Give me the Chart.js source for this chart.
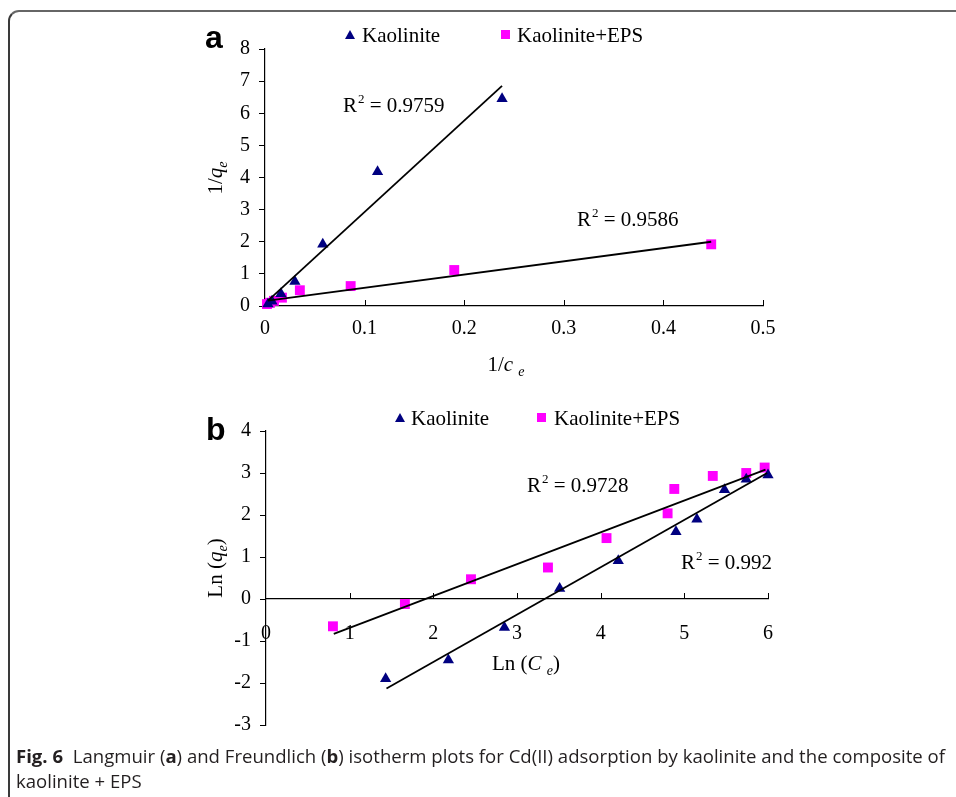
<!DOCTYPE html>
<html><head><meta charset="utf-8">
<script src="https://cdn.jsdelivr.net/npm/chart.js@4.4.0/dist/chart.umd.min.js"></script>
<style>
html,body{margin:0;padding:0;background:#fff;}
#page{position:relative;width:956px;height:797px;overflow:hidden;background:#fff;}
.frame{position:absolute;left:8px;top:10px;width:1000px;height:900px;border-left:2px solid #3a3a3a;border-top:2px solid #666;border-top-left-radius:11px;box-sizing:border-box;}
canvas{position:absolute;left:0;}
.t{position:absolute;font-family:"Liberation Serif","Times New Roman",serif;color:#000;white-space:nowrap;line-height:1;font-size:21px;}
.t sup{font-size:13px;vertical-align:0;position:relative;top:-9px;margin-left:1px;}
.t sub{font-size:14px;vertical-align:0;position:relative;top:5px;}
.c{transform:translate(-50%,-50%);}
.r{transform:translate(-50%,-50%) rotate(-90deg);}
.panel{position:absolute;font-family:"Liberation Sans",Arial,sans-serif;font-weight:bold;font-size:32px;line-height:1;color:#000;}
.tri{position:absolute;width:0;height:0;border-left:5px solid transparent;border-right:5px solid transparent;border-bottom:9px solid #000080;}
.sq{position:absolute;width:9px;height:9px;background:#ff00ff;}
.cap{position:absolute;left:16px;font-family:"Open Sans","Noto Sans",sans-serif;font-size:18px;line-height:25px;color:#231f20;white-space:nowrap;transform-origin:0 0;}
</style></head>
<body>
<div id="page">
  <div class="frame"></div>
  <canvas id="ca" width="956" height="390" style="top:0;width:956px;height:390px"></canvas>
  <canvas id="cb" width="956" height="357" style="top:390px;width:956px;height:357px"></canvas>

  <div class="panel" style="left:205px;top:21px">a</div>
  <div class="panel" style="left:206px;top:413px">b</div>

  <div class="tri" style="left:345px;top:30px"></div>
  <div class="t" style="left:362px;top:25px">Kaolinite</div>
  <div class="sq" style="left:501px;top:30px"></div>
  <div class="t" style="left:517px;top:25px">Kaolinite+EPS</div>

  <div class="tri" style="left:395px;top:413px"></div>
  <div class="t" style="left:411px;top:408px">Kaolinite</div>
  <div class="sq" style="left:537px;top:413px"></div>
  <div class="t" style="left:554px;top:408px">Kaolinite+EPS</div>

  <div class="t" style="left:343px;top:95px">R<sup>2</sup> = 0.9759</div>
  <div class="t" style="left:577px;top:209px">R<sup>2</sup> = 0.9586</div>
  <div class="t" style="left:527px;top:475px">R<sup>2</sup> = 0.9728</div>
  <div class="t" style="left:681px;top:552px">R<sup>2</sup> = 0.992</div>

  <div class="t r" style="left:215px;top:178px">1/<i>q</i><sub><i>e</i></sub></div>
  <div class="t c" style="left:506px;top:364px">1/<i>c</i>&nbsp;<sub><i>e</i></sub></div>
  <div class="t r" style="left:215px;top:568px">Ln (<i>q</i><sub><i>e</i></sub>)</div>
  <div class="t c" style="left:526px;top:663px">Ln (<i>C</i>&nbsp;<sub><i>e</i></sub>)</div>

  <div id="cap" class="cap" style="top:744px">
    <div id="cap1"><b>Fig. 6</b>&nbsp; Langmuir (<b>a</b>) and Freundlich (<b>b</b>) isotherm plots for Cd(II) adsorption by kaolinite and the composite of</div>
    <div>kaolinite + EPS</div>
  </div>
</div>
<script>
// ---------- Panel a (Langmuir) ----------
const aXTicks = [0, 0.1, 0.2, 0.3, 0.4, 0.5];
const aYTicks = [0, 1, 2, 3, 4, 5, 6, 7, 8];
const aKaoX = [0.003, 0.007, 0.016, 0.030, 0.058, 0.113, 0.238];
const aKaoY = [0.06, 0.15, 0.38, 0.76, 1.92, 4.18, 6.45];
const aEpsX = [0.002, 0.005, 0.009, 0.017, 0.035, 0.086, 0.190, 0.448];
const aEpsY = [0.06, 0.10, 0.16, 0.26, 0.49, 0.62, 1.12, 1.92];
const aKaoFitX = [0.003, 0.238];
const aKaoFitY = [0.17, 6.85];
const aEpsFitX = [0.003, 0.448];
const aEpsFitY = [0.17, 2.00];

// ---------- Panel b (Freundlich) ----------
const bXTicks = [0, 1, 2, 3, 4, 5, 6];
const bYTicks = [-3, -2, -1, 0, 1, 2, 3, 4];
const bKaoX = [1.43, 2.18, 2.85, 3.51, 4.21, 4.90, 5.15, 5.48, 5.74, 6.00];
const bKaoY = [-1.90, -1.45, -0.68, 0.25, 0.91, 1.60, 1.90, 2.60, 2.85, 2.95];
const bEpsX = [0.80, 1.66, 2.45, 3.37, 4.07, 4.80, 4.88, 5.34, 5.74, 5.96];
const bEpsY = [-0.65, -0.12, 0.47, 0.75, 1.45, 2.04, 2.62, 2.93, 3.00, 3.13];
const bKaoFitX = [1.44, 5.99];
const bKaoFitY = [-2.13, 3.00];
const bEpsFitX = [0.81, 5.97];
const bEpsFitY = [-0.83, 3.08];

const NAVY = '#000080', MAG = '#ff00ff';
const pts = (xs, ys) => xs.map((x, i) => ({x, y: ys[i]}));

Chart.defaults.font.family = '"Liberation Serif","Times New Roman",serif';
Chart.defaults.color = '#000';

const innerTicks = {
  id: 'innerTicks',
  afterDatasetsDraw(chart) {
    const xs = chart.scales.x, ys = chart.scales.y, ctx = chart.ctx;
    const pos = xs.options.position;
    const yPix = (typeof pos === 'object') ? Math.round(ys.getPixelForValue(0)) : Math.round(chart.chartArea.bottom);
    ctx.save();
    ctx.strokeStyle = '#000';
    ctx.lineWidth = 1;
    xs.ticks.forEach(t => {
      if (t.value === 0) return;
      const px = Math.round(xs.getPixelForValue(t.value)) + 0.5;
      ctx.beginPath();
      ctx.moveTo(px, yPix);
      ctx.lineTo(px, yPix - 6);
      ctx.stroke();
    });
    ctx.restore();
  }
};

function ds(label, data, style, color, radius) {
  return {label, data, showLine: false, pointStyle: style, pointRadius: radius, pointHoverRadius: radius,
    backgroundColor: color, borderColor: color, borderWidth: 0, clip: false};
}
function fit(data) {
  return {label: 'fit', data, showLine: true, pointRadius: 0, borderColor: '#000', borderWidth: 1.8,
    backgroundColor: '#000', clip: false, tension: 0};
}

function makeChart(id, cfg) {
  const yWidth = cfg.left;
  return new Chart(document.getElementById(id), {
    type: 'scatter',
    data: {datasets: [
      fit(pts(cfg.kaoFitX, cfg.kaoFitY)),
      fit(pts(cfg.epsFitX, cfg.epsFitY)),
      ds('Kaolinite', pts(cfg.kaoX, cfg.kaoY), 'triangle', NAVY, 6.5),
      ds('Kaolinite+EPS', pts(cfg.epsX, cfg.epsY), 'rect', MAG, 7)
    ]},
    options: {
      responsive: false, animation: false, devicePixelRatio: 1,
      layout: {padding: cfg.padding},
      plugins: {legend: {display: false}, tooltip: {enabled: false}},
      scales: {
        x: {
          type: 'linear', min: cfg.xTicks[0], max: cfg.xTicks[cfg.xTicks.length - 1],
          position: cfg.xPos,
          afterBuildTicks: s => { s.ticks = cfg.xTicks.map(v => ({value: v})); },
          afterFit: s => { if (cfg.xHeight) s.height = cfg.xHeight; },
          grid: {display: true, drawOnChartArea: false, drawTicks: false},
          border: {display: true, color: '#000', width: 1.2},
          ticks: {padding: cfg.xPad, font: {size: 20}, color: '#000', maxRotation: 0, autoSkip: false,
            callback: v => String(v)}
        },
        y: {
          type: 'linear', min: cfg.yTicks[0], max: cfg.yTicks[cfg.yTicks.length - 1],
          afterBuildTicks: s => { s.ticks = cfg.yTicks.map(v => ({value: v})); },
          afterFit: s => { s.width = yWidth; },
          grid: {display: true, drawOnChartArea: false, drawTicks: true, tickLength: 6, color: '#000'},
          border: {display: true, color: '#000', width: 1.2},
          ticks: {padding: 9, font: {size: 20}, color: '#000', autoSkip: false, callback: v => String(v)}
        }
      }
    },
    plugins: [innerTicks]
  });
}

makeChart('ca', {
  left: 265, padding: {left: 0, top: 49, right: 193, bottom: 0}, xHeight: 84, xPos: 'bottom', xPad: 11,
  xTicks: aXTicks, yTicks: aYTicks,
  kaoX: aKaoX, kaoY: aKaoY, epsX: aEpsX, epsY: aEpsY,
  kaoFitX: aKaoFitX, kaoFitY: aKaoFitY, epsFitX: aEpsFitX, epsFitY: aEpsFitY
});
makeChart('cb', {
  left: 266, padding: {left: 0, top: 41, right: 188, bottom: 22}, xHeight: 0, xPos: {y: 0}, xPad: 23,
  xTicks: bXTicks, yTicks: bYTicks,
  kaoX: bKaoX, kaoY: bKaoY, epsX: bEpsX, epsY: bEpsY,
  kaoFitX: bKaoFitX, kaoFitY: bKaoFitY, epsFitX: bEpsFitX, epsFitY: bEpsFitY
});

// fit caption width to the reference line length
(function () {
  const cap = document.getElementById('cap');
  const l1 = document.getElementById('cap1');
  const r = document.createRange(); r.selectNodeContents(l1);
  const w = r.getBoundingClientRect().width;
  const target = 945 - 16;
  cap.style.transform = 'scaleX(' + (target / w) + ')';
})();
</script>
</body></html>
